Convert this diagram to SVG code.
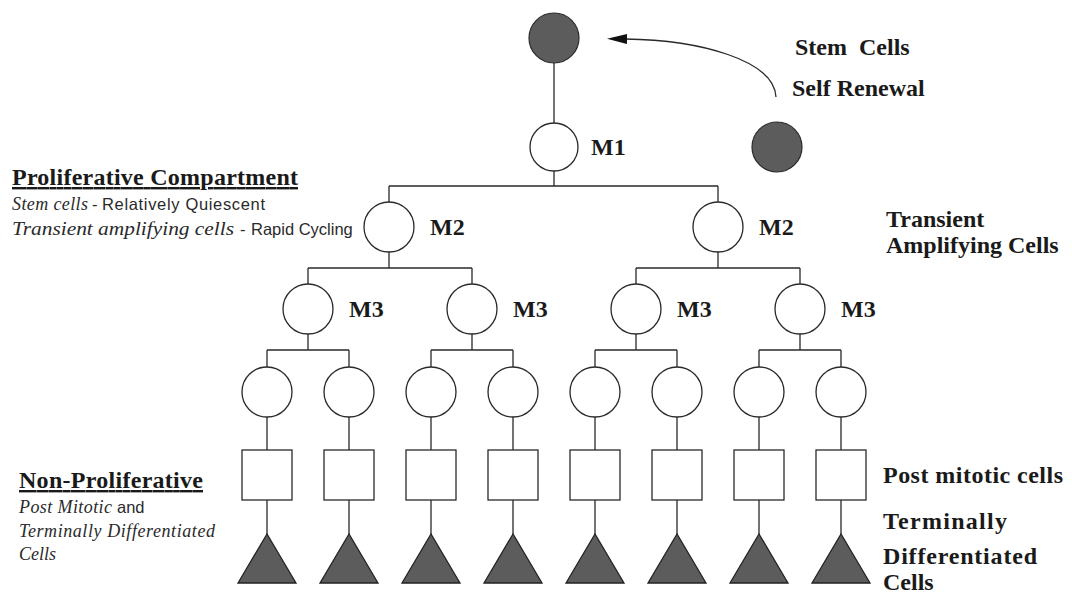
<svg xmlns="http://www.w3.org/2000/svg" width="1072" height="598" viewBox="0 0 1072 598">
<style>
.ln{fill:none;stroke:#2a2a2a;stroke-width:1.3}
.cell{fill:#fff;stroke:#2a2a2a;stroke-width:1.3}
.stem{fill:#5c5c5c;stroke:#2a2a2a;stroke-width:1.2}
.tri{fill:#5c5c5c;stroke:#222;stroke-width:1.3}
.lbl{font-family:"Liberation Serif","Times New Roman",serif;font-weight:bold;font-size:24px;fill:#1a1a1a}
.hd{font-family:"Liberation Serif","Times New Roman",serif;font-weight:bold;font-size:24px;fill:#1a1a1a;text-decoration:underline}
.it{font-family:"Liberation Serif","Times New Roman",serif;font-style:italic;font-size:18px;fill:#2a2a2a}
.sn{font-family:"Liberation Sans",Arial,sans-serif;font-size:16.5px;fill:#2a2a2a}
</style>
<defs>
<marker id="ah" markerUnits="userSpaceOnUse" markerWidth="22" markerHeight="12" refX="2" refY="5" orient="auto">
<path d="M0,0 L20,5 L0,10 Z" fill="#111"/>
</marker>
</defs>
<rect width="1072" height="598" fill="#fff"/>

<g id="connectors">
<path class="ln" d="M554,63 V123 M554,171 V186 M389,186 H718 M389,186 V202 M718,186 V202"/>
<path class="ln" d="M389,252 V268 M308,268 H472 M308,268 V284 M472,268 V284"/>
<path class="ln" d="M718,252 V268 M636,268 H800 M636,268 V284 M800,268 V284"/>
<path class="ln" d="M308,334 V350 M267,350 H349 M267,350 V367 M349,350 V367"/>
<path class="ln" d="M472,334 V350 M431,350 H513 M431,350 V367 M513,350 V367"/>
<path class="ln" d="M636,334 V350 M595,350 H677 M595,350 V367 M677,350 V367"/>
<path class="ln" d="M800,334 V350 M759,350 H841 M759,350 V367 M841,350 V367"/>
<path class="ln" d="M267,417 V450 M349,417 V450 M431,417 V450 M513,417 V450 M595,417 V450 M677,417 V450 M759,417 V450 M841,417 V450"/>
<path class="ln" d="M267,500 V534 M349,500 V534 M431,500 V534 M513,500 V534 M595,500 V534 M677,500 V534 M759,500 V534 M841,500 V534"/>
<path class="ln" d="M776,97 C774,60 700,40 625,39" marker-end="url(#ah)" stroke-width="1.4"/>
</g>

<g id="stem-top"><circle class="stem" cx="554" cy="38" r="25"/></g>
<g id="stem-renewed"><circle class="stem" cx="777" cy="147" r="25"/></g>
<g id="m1"><circle class="cell" cx="554" cy="147" r="24"/><text class="lbl" x="591" y="155">M1</text></g>
<g id="m2-left"><circle class="cell" cx="389" cy="227" r="25"/><text class="lbl" x="430" y="235">M2</text></g>
<g id="m2-right"><circle class="cell" cx="718" cy="227" r="25"/><text class="lbl" x="759" y="235">M2</text></g>
<g id="m3-1"><circle class="cell" cx="308" cy="309" r="25"/><text class="lbl" x="349" y="317">M3</text></g>
<g id="m3-2"><circle class="cell" cx="472" cy="309" r="25"/><text class="lbl" x="513" y="317">M3</text></g>
<g id="m3-3"><circle class="cell" cx="636" cy="309" r="25"/><text class="lbl" x="677" y="317">M3</text></g>
<g id="m3-4"><circle class="cell" cx="800" cy="309" r="25"/><text class="lbl" x="841" y="317">M3</text></g>

<g id="leaf-1"><circle class="cell" cx="267" cy="392" r="25"/></g>
<g id="leaf-2"><circle class="cell" cx="349" cy="392" r="25"/></g>
<g id="leaf-3"><circle class="cell" cx="431" cy="392" r="25"/></g>
<g id="leaf-4"><circle class="cell" cx="513" cy="392" r="25"/></g>
<g id="leaf-5"><circle class="cell" cx="595" cy="392" r="25"/></g>
<g id="leaf-6"><circle class="cell" cx="677" cy="392" r="25"/></g>
<g id="leaf-7"><circle class="cell" cx="759" cy="392" r="25"/></g>
<g id="leaf-8"><circle class="cell" cx="841" cy="392" r="25"/></g>

<g id="post-1"><rect class="cell" x="242" y="450" width="50" height="50"/></g>
<g id="post-2"><rect class="cell" x="324" y="450" width="50" height="50"/></g>
<g id="post-3"><rect class="cell" x="406" y="450" width="50" height="50"/></g>
<g id="post-4"><rect class="cell" x="488" y="450" width="50" height="50"/></g>
<g id="post-5"><rect class="cell" x="570" y="450" width="50" height="50"/></g>
<g id="post-6"><rect class="cell" x="652" y="450" width="50" height="50"/></g>
<g id="post-7"><rect class="cell" x="734" y="450" width="50" height="50"/></g>
<g id="post-8"><rect class="cell" x="816" y="450" width="50" height="50"/></g>

<g id="term-1"><polygon class="tri" points="267,534 238,583 296,583"/></g>
<g id="term-2"><polygon class="tri" points="349,534 320,583 378,583"/></g>
<g id="term-3"><polygon class="tri" points="431,534 402,583 460,583"/></g>
<g id="term-4"><polygon class="tri" points="513,534 484,583 542,583"/></g>
<g id="term-5"><polygon class="tri" points="595,534 566,583 624,583"/></g>
<g id="term-6"><polygon class="tri" points="677,534 648,583 706,583"/></g>
<g id="term-7"><polygon class="tri" points="759,534 730,583 788,583"/></g>
<g id="term-8"><polygon class="tri" points="841,534 812,583 870,583"/></g>

<g id="labels-right">
<text class="lbl" x="795" y="55" font-size="23" word-spacing="6">Stem Cells</text>
<text class="lbl" x="792" y="96" font-size="23">Self Renewal</text>
<text class="lbl" x="886" y="227">Transient</text>
<text class="lbl" x="886" y="253">Amplifying Cells</text>
<text class="lbl" x="883" y="483" font-size="25" textLength="180">Post mitotic cells</text>
<text class="lbl" x="883" y="529" font-size="25" textLength="124">Terminally</text>
<text class="lbl" x="883" y="564" font-size="25" textLength="154">Differentiated</text>
<text class="lbl" x="883" y="590" font-size="25">Cells</text>
</g>

<g id="labels-left">
<text class="hd" x="12" y="185" textLength="286">Proliferative Compartment</text>
<text class="it" x="12" y="210" textLength="76">Stem cells</text>
<text class="sn" x="92" y="210">-</text>
<text class="sn" x="102" y="210" textLength="163">Relatively Quiescent</text>
<text class="it" x="12" y="235" font-size="19" textLength="222" lengthAdjust="spacingAndGlyphs">Transient amplifying cells</text>
<text class="sn" x="240" y="235">-</text>
<text class="sn" x="251" y="235" font-size="16">Rapid Cycling</text>
<text class="hd" x="19" y="488" textLength="184">Non-Proliferative</text>
<text class="it" x="19" y="513" textLength="93">Post Mitotic</text>
<text class="sn" x="117" y="513">and</text>
<text class="it" x="19" y="537" textLength="196">Terminally Differentiated</text>
<text class="it" x="19" y="560">Cells</text>
</g>
</svg>
